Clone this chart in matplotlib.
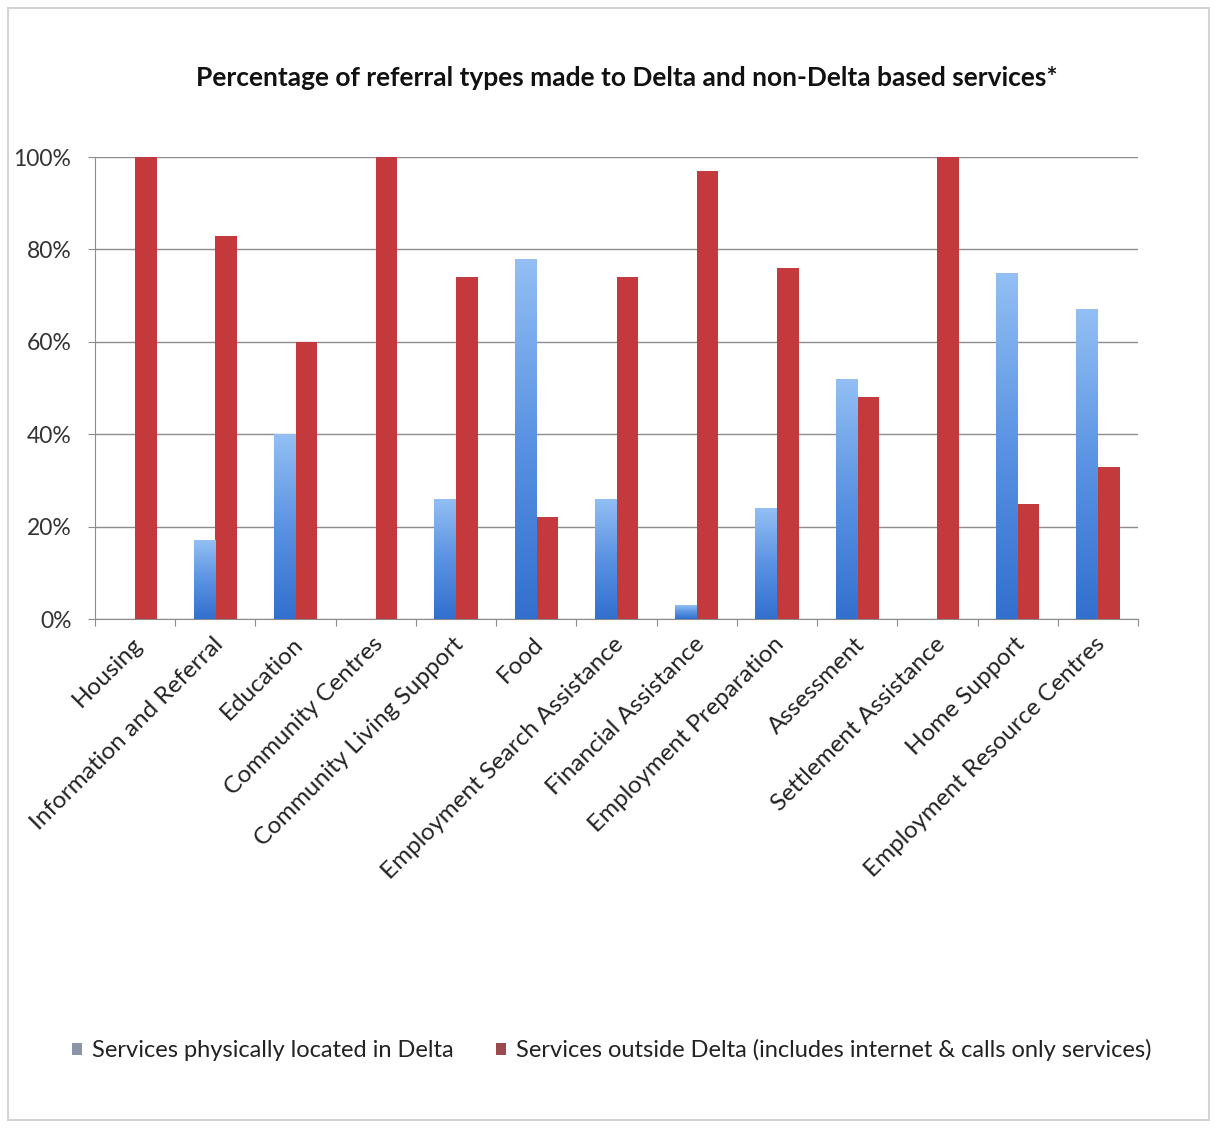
import numpy as np
import matplotlib
matplotlib.use("Agg")
import matplotlib.pyplot as plt
from matplotlib.patches import Patch, Rectangle
from matplotlib.colors import LinearSegmentedColormap
from matplotlib.transforms import offset_copy, blended_transform_factory

categories = ["Housing", "Information and Referral", "Education", "Community Centres",
              "Community Living Support", "Food", "Employment Search Assistance",
              "Financial Assistance", "Employment Preparation", "Assessment",
              "Settlement Assistance", "Home Support", "Employment Resource Centres"]
in_delta = [0, 17, 40, 0, 26, 78, 26, 3, 24, 52, 0, 75, 67]
outside_delta = [100, 83, 60, 100, 74, 22, 74, 97, 76, 48, 100, 25, 33]
y_ticks = [0, 20, 40, 60, 80, 100]
series_names = ["Services physically located in Delta",
                "Services outside Delta (includes internet & calls only services)"]
title = "Percentage of referral types made to Delta and non-Delta based services*"

plt.rcParams['font.family'] = ['Lato', 'DejaVu Sans']

W, H = 1217, 1128
fig = plt.figure(figsize=(W / 100, H / 100), dpi=100)
fig.patch.set_facecolor("white")

# outer frame
fig.add_artist(Rectangle((8 / W, 1 - 1120 / H), (1209 - 8) / W, (1120 - 8) / H,
                         transform=fig.transFigure, fill=False, edgecolor="#d4d4d4", lw=1.5))

left, right, top, bottom = 95 / W, 1138 / W, 1 - 157 / H, 1 - 619 / H
ax = fig.add_axes([left, bottom, right - left, top - bottom])

n = len(categories)
x = np.arange(n)
bw = 0.27
blue_cmap = LinearSegmentedColormap.from_list("b", ["#3270cf", "#5a93e3", "#93bff4"])
red_color = "#c43a3c"

bars_b = ax.bar(x - bw / 2, in_delta, bw, color="#5d95e4", zorder=3)
bars_r = ax.bar(x + bw / 2, outside_delta, bw, color=red_color, zorder=3)

grad = np.linspace(0, 1, 256).reshape(-1, 1)
for b in bars_b:
    h = b.get_height()
    if h <= 0:
        continue
    bx, by, w = b.get_x(), b.get_y(), b.get_width()
    im = ax.imshow(grad, cmap=blue_cmap, aspect="auto", origin="lower",
                   extent=(bx, bx + w, by, by + h), zorder=3.5)
    im.set_clip_path(b)

ax.set_xlim(-0.5, n - 0.5)
ax.set_ylim(0, 100)
ax.set_yticks(y_ticks)
ax.set_yticklabels([f"{t}%" for t in y_ticks], fontsize=16.5, color="#333333")
ax.yaxis.grid(True, color="#8c8c8c", lw=1, zorder=0)
ax.set_axisbelow(True)

ax.set_xticks(np.arange(n + 1) - 0.5)
ax.set_xticklabels([])
ax.tick_params(axis="x", length=5, color="#8c8c8c", direction="out")
ax.tick_params(axis="y", length=5, color="#8c8c8c", direction="out", pad=12)

for s in ["top", "right"]:
    ax.spines[s].set_visible(False)
ax.spines["left"].set_color("#8c8c8c")
ax.spines["bottom"].set_color("#8c8c8c")

trans = blended_transform_factory(ax.transData, ax.transAxes)
for i, c in enumerate(categories):
    t = offset_copy(trans, fig=fig, x=4, y=-22, units="dots")
    ax.text(i, 0, c, transform=t, rotation=45, rotation_mode="anchor",
            ha="right", va="center", fontsize=17.5, color="#222222")

fig.text(627 / W, 1 - 78 / H, title, ha="center", va="center",
         fontsize=19, fontweight="bold", color="#111111")

handles = [Patch(facecolor="#8a96a8", edgecolor="none"),
           Patch(facecolor="#9a4a4e", edgecolor="none")]
fig.legend(handles, series_names, loc="center", bbox_to_anchor=(612 / W, 1 - 1050 / H),
           ncol=2, frameon=False, fontsize=17, handlelength=0.4, handleheight=0.4,
           handletextpad=0.45, columnspacing=1.8, labelcolor="#222222")

fig.savefig("out.png", dpi=100, facecolor="white")
